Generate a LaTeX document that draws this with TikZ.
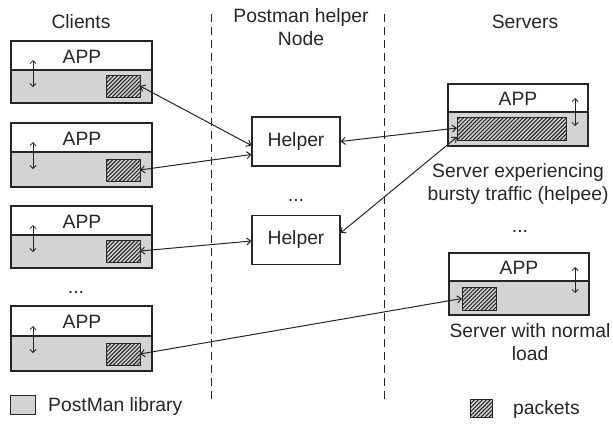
\documentclass[tikz,border=0pt]{standalone}
\usepackage{fontspec}
\setmainfont{Liberation Sans}
\usetikzlibrary{arrows.meta,patterns.meta}
\definecolor{ink}{HTML}{262626}
\definecolor{libgray}{HTML}{D3D3D3}
\begin{document}
\begin{tikzpicture}[x=1pt,y=-1pt,
  font=\fontsize{19.3}{22.5}\selectfont,
  every node/.style={text=ink},
  appbox/.style={draw=ink,line width=1.1pt,fill=white,inner sep=0pt,outer sep=0pt,minimum width=141pt,minimum height=29pt},
  libbox/.style={draw=ink,line width=1.1pt,fill=libgray,inner sep=0pt,outer sep=0pt,minimum width=141pt,minimum height=33pt},
  pkt/.style={draw=ink,line width=1pt,fill=libgray,inner sep=0pt,outer sep=0pt,
     postaction={pattern={Lines[angle=45,distance=2.8pt,line width=1.1pt]},pattern color=ink}},
  helperbox/.style={draw=ink,line width=1.1pt,fill=white,inner sep=0pt,minimum width=88pt,minimum height=49pt},
  link/.style={draw=ink,line width=1pt,{Straight Barb[length=4pt,width=7pt]}-{Straight Barb[length=4pt,width=7pt]}},
  updown/.style={draw=ink,line width=0.8pt,{Straight Barb[length=3pt,width=6pt]}-{Straight Barb[length=3pt,width=6pt]}},
  sep/.style={draw=ink,line width=0.8pt,dash pattern=on 8pt off 5pt},
  lbl/.style={align=center,inner sep=0pt}
]
\useasboundingbox (0,0) rectangle (613,423);
% titles
\node[lbl] (tcl) at (81,22) {Clients};
\node[lbl] (tph) at (301,27) {Postman helper\\Node};
\node[lbl] (tsv) at (525,22) {Servers};
% dashed separators
\coordinate (d1t) at (211,14); \coordinate (d1b) at (211,402);
\coordinate (d2t) at (384,14); \coordinate (d2b) at (384,402);
\draw[sep] (d1t) -- (d1b);
\draw[sep] (d2t) -- (d2b);
% clients
\foreach \i/\t/\d/\b in {1/41/70/103, 2/123/152/187, 3/206/235/268, 4/306/336/371}{
  \node[appbox,minimum height=\d-\t] (c\i a) at (81.5,{(\t+\d)/2}) {};
  \node[lbl] (c\i t) at (82,{(\t+\d)/2+1}) {APP};
  \node[libbox,minimum height=\b-\d] (c\i l) at (81.5,{(\d+\b)/2}) {};
  \node[pkt,minimum width=34pt,minimum height=22pt] (c\i p) at (123,{\b-17}) {};
  \coordinate (c\i u) at (33,{\d-10});
  \coordinate (c\i d) at (33,{\d+17});
  \draw[updown] (c\i u) -- (c\i d);
}
\node[lbl] (cdots) at (76,292) {...};
% helpers
\node[helperbox] (h1) at (296,141.5) {Helper};
\node[lbl] (hdots) at (296,200) {...};
\node[helperbox] (h2) at (296,240) {Helper};
% servers
\node[appbox,minimum width=140pt,minimum height=28pt] (s1a) at (518,98) {};
\node[lbl] (s1t) at (518,99) {APP};
\node[libbox,minimum width=140pt,minimum height=34pt] (s1l) at (518,129) {};
\node[pkt,minimum width=109pt,minimum height=23pt] (s1p) at (511.5,129) {};
\coordinate (s1u) at (575,98); \coordinate (s1d) at (575,126);
\draw[updown] (s1u) -- (s1d);
\node[lbl] (s1c) at (518,184) {Server experiencing\\bursty traffic (helpee)};
\node[lbl] (sdots) at (520,231) {...};
\node[appbox,minimum width=140pt,minimum height=28pt] (s2a) at (519,267) {};
\node[lbl] (s2t) at (519,268) {APP};
\node[libbox,minimum width=140pt,minimum height=34pt] (s2l) at (519,298) {};
\node[pkt,minimum width=34pt,minimum height=23pt] (s2p) at (479,298.5) {};
\coordinate (s2u) at (575,267); \coordinate (s2d) at (575,293);
\draw[updown] (s2u) -- (s2d);
\node[lbl] (s2c) at (530,342) {Server with normal\\load};
% legend
\node[draw=ink,line width=1pt,fill=libgray,minimum width=25pt,minimum height=19pt,inner sep=0pt] (lg1) at (23,405) {};
\node[anchor=west,inner sep=0pt] (lg1t) at (48,407) {PostMan library};
\node[pkt,minimum width=22pt,minimum height=18pt] (lg2) at (481,408) {};
\node[anchor=west,inner sep=0pt] (lg2t) at (513,410) {packets};
% links
\draw[link] (c1p.east) -- ([yshift=-4pt]h1.west);
\draw[link] (c2p.east) -- ([yshift=-13pt]h1.west);
\draw[link] (c3p.east) -- ([yshift=-1pt]h2.west);
\draw[link] (c4p.east) -- (s2p.west);
\draw[link] (h1.east) -- ([yshift=1pt]s1p.west);
\draw[link] ([yshift=7pt]h2.east) -- ([yshift=-8pt]s1p.west);
\end{tikzpicture}
\end{document}
